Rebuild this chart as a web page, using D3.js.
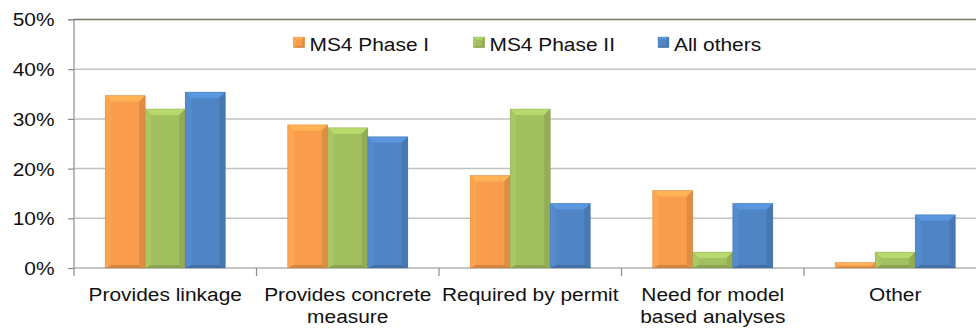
<!DOCTYPE html>
<html>
<head>
<meta charset="utf-8">
<script src="https://cdn.jsdelivr.net/npm/d3@7"></script>
<style>
  html, body { margin: 0; padding: 0; background: #fff; }
  svg { display: block; font-family: "Liberation Sans", Arial, sans-serif; }
</style>
</head>
<body>
<svg id="chart" width="976" height="329"></svg>
<script>
// Reasons cited, share of respondents by permit type
const categories = ["Provides linkage", "Provides concrete\nmeasure", "Required by permit", "Need for model\nbased analyses", "Other"];
const seriesNames = ["MS4 Phase I", "MS4 Phase II", "All others"];
const phaseI  = [0.347, 0.288, 0.186, 0.156, 0.011];
const phaseII = [0.320, 0.282, 0.320, 0.032, 0.032];
const others  = [0.354, 0.264, 0.130, 0.130, 0.107];
const yTicks  = [0, 0.1, 0.2, 0.3, 0.4, 0.5];

const seriesValues = [phaseI, phaseII, others];
const colors = ["#F99D4C", "#A2C05F", "#4F85C5"];
const fontSize = 19, stretch = 1.1;

const svg = d3.select("#chart");
const plotLeft = 74, plotRight = 986.5, plotTop = 19.5, plotBottom = 268;

const x0 = d3.scaleBand().domain(d3.range(categories.length)).range([plotLeft, plotRight]).padding(0);
const x1 = d3.scaleBand().domain(d3.range(seriesNames.length)).range([0, x0.bandwidth()])
  .paddingInner(0).paddingOuter(0.78);
const y = d3.scaleLinear().domain([0, 0.5]).range([plotBottom, plotTop]);

// Gridlines
svg.append("g").selectAll("line").data(yTicks.filter(t => t > 0)).join("line")
  .attr("x1", plotLeft).attr("x2", 976)
  .attr("y1", d => y(d)).attr("y2", d => y(d))
  .attr("stroke", d => d === 0.5 ? "#76765a" : "#c2c2c2")
  .attr("stroke-width", 1.5);

// Y axis
const yAxis = d3.axisLeft(y).tickValues(yTicks).tickFormat(d3.format(".0%")).tickSize(6).tickPadding(5);
const gy = svg.append("g").attr("transform", `translate(${plotLeft},0)`).call(yAxis);
gy.select(".domain").attr("stroke", "#8c8c8c").attr("stroke-width", 1.2).attr("d", `M-6,${plotTop}H0V${plotBottom}`);
gy.selectAll(".tick line").attr("stroke", "#8c8c8c").attr("stroke-width", 1.2);
gy.selectAll(".tick text").attr("font-size", fontSize).attr("fill", "#111")
  .attr("font-family", "'Liberation Sans', Arial, sans-serif")
  .attr("x", -19.5 / stretch).attr("dy", "0.34em")
  .attr("transform", `scale(${stretch},1)`);

// X axis with category boundary ticks
const gx = svg.append("g");
gx.append("line").attr("x1", plotLeft).attr("x2", 976).attr("y1", plotBottom).attr("y2", plotBottom)
  .attr("stroke", "#8c8c8c").attr("stroke-width", 1.2);
gx.selectAll("line.tk").data(d3.range(categories.length + 1)).join("line").attr("class", "tk")
  .attr("x1", d => plotLeft + d * x0.step()).attr("x2", d => plotLeft + d * x0.step())
  .attr("y1", plotBottom).attr("y2", plotBottom + 8)
  .attr("stroke", "#8c8c8c").attr("stroke-width", 1.2);

const labels = gx.selectAll("text").data(categories).join("text")
  .attr("text-anchor", "middle")
  .attr("font-size", fontSize).attr("fill", "#111")
  .attr("transform", (d, i) => `translate(${x0(i) + x0.bandwidth() / 2},300.7) scale(${stretch},1)`);
labels.each(function(d) {
  const t = d3.select(this);
  d.split("\n").forEach((line, k) => {
    t.append("tspan").attr("x", 0).attr("dy", k === 0 ? 0 : 22.5).text(line);
  });
});

// Bevelled bar drawing
function bevelBar(g, x, yTop, w, h, color, bevel) {
  const c = d3.color(color);
  const b = Math.min(bevel, h / 2, w / 4);
  const lighter = c.brighter(0.35).formatHex();
  const light = c.brighter(0.12).formatHex();
  const dark = c.darker(0.3).formatHex();
  const darker = c.darker(0.45).formatHex();
  const yb = yTop + h;
  const bb = b * 0.5;
  g.append("rect").attr("x", x).attr("y", yTop).attr("width", w).attr("height", h).attr("fill", color);
  // top face
  g.append("path").attr("fill", lighter)
    .attr("d", `M${x},${yTop}L${x + w},${yTop}L${x + w - b},${yTop + b}L${x + b},${yTop + b}Z`);
  // left face
  g.append("path").attr("fill", light)
    .attr("d", `M${x},${yTop}L${x + b},${yTop + b}L${x + b},${yb - bb}L${x},${yb}Z`);
  // right face
  g.append("path").attr("fill", dark)
    .attr("d", `M${x + w},${yTop}L${x + w - b},${yTop + b}L${x + w - b},${yb - bb}L${x + w},${yb}Z`);
  // bottom face
  g.append("path").attr("fill", darker)
    .attr("d", `M${x},${yb}L${x + b},${yb - bb}L${x + w - b},${yb - bb}L${x + w},${yb}Z`);
  g.append("rect").attr("x", x).attr("y", yTop).attr("width", w).attr("height", h)
    .attr("fill", "none").attr("stroke", c.darker(0.8).formatHex()).attr("stroke-opacity", 0.35).attr("stroke-width", 0.8);
}

const barsG = svg.append("g");
seriesValues.forEach((vals, s) => {
  vals.forEach((v, i) => {
    const bx = x0(i) + x1(s);
    const yt = y(v);
    bevelBar(barsG.append("g"), bx, yt, x1.bandwidth(), plotBottom - yt, colors[s], 6);
  });
});

// Legend
const legendX = [293.5, 473.5, 658];
const lg = svg.append("g");
seriesNames.forEach((name, s) => {
  const g = lg.append("g").attr("transform", `translate(${legendX[s]},37)`);
  bevelBar(g, 0, 0, 11, 10.5, colors[s], 2.5);
  g.append("text").attr("font-size", fontSize).attr("fill", "#111")
    .attr("transform", `translate(16,13.7) scale(${stretch},1)`).text(name);
});
</script>
</body>
</html>
